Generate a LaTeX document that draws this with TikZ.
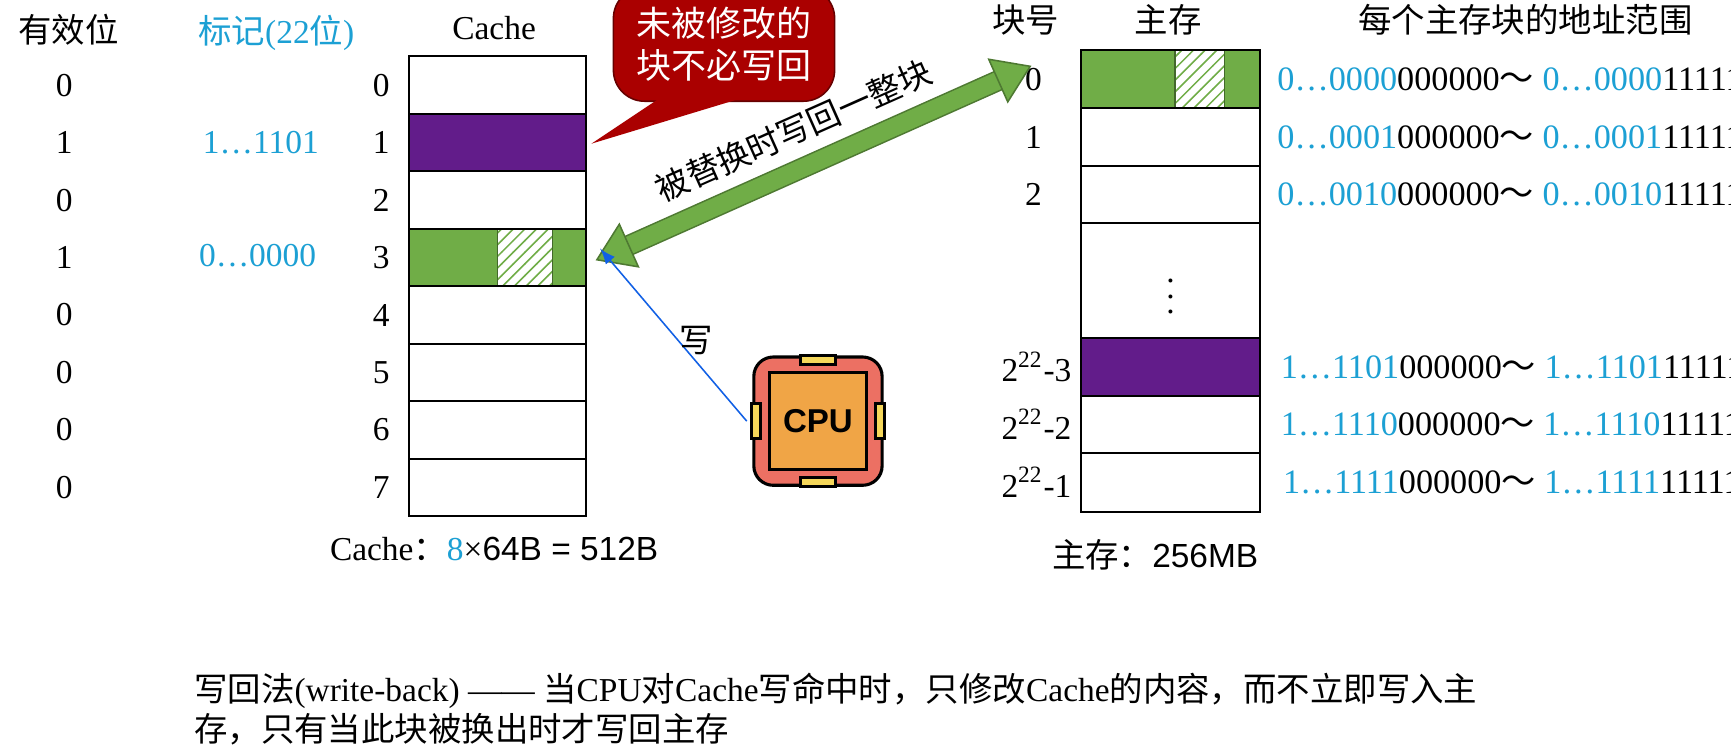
\documentclass[tikz,border=0pt]{standalone}
\usepackage{fontspec}
\setmainfont{Liberation Serif}
\newfontfamily\cjk{Noto Sans CJK SC}
\newfontfamily\sanf{Liberation Sans}
\usetikzlibrary{positioning,calc,patterns}
\definecolor{mygreen}{RGB}{112,173,71}
\definecolor{mypurple}{RGB}{98,28,138}
\definecolor{mycyan}{RGB}{28,160,212}
\definecolor{myred}{RGB}{170,0,0}
\definecolor{cpuout}{RGB}{236,112,99}
\definecolor{cpuin}{RGB}{240,165,70}
\definecolor{cpupin}{RGB}{245,215,90}
\newcommand\tg[1]{\textcolor{mycyan}{#1}}
\newcommand\addr[1]{\tg{#1}000000{\cjk ～} \tg{#1}111111}
\begin{document}
\begin{tikzpicture}[x=0.01cm,y=-0.01cm,
  every node/.style={font=\fontsize{8.6}{10}\selectfont},
  cell/.style={draw=black,line width=0.5pt},
  txt/.style={inner sep=0pt},
  adr/.style={txt,anchor=west,font=\fontsize{8.8}{10}\selectfont},
  ]
\useasboundingbox (0,0) rectangle (1566,682);
\clip (0,0) rectangle (1566,682);
\fill[white] (0,0) rectangle (1566,682);
% cache
\foreach \v [count=\i from 0] in {0,1,0,1,0,0,0,0}{
  \coordinate (c\i) at (370,{51+52*\i});
  \node[txt] (v\i) at (58,{77+52*\i}) {\v};
  \node[txt] (n\i) at (345,{77+52*\i}) {\i};
}
\fill[mypurple] (370,103) rectangle (530,155);
\fill[mygreen] (370,207) rectangle (530,259);
\fill[white] (450,207) rectangle (500,259);
\fill[pattern=north east lines,pattern color=mygreen] (450,207) rectangle (500,259);
\draw[mygreen!60!black,line width=0.3pt] (450,207) rectangle (500,259);
\foreach \i in {0,...,7}
  \draw[cell] (c\i) rectangle ++(160,52);
\node[txt] (valid) at (62,27) {\cjk 有效位};
\node[txt,text=mycyan] (tag) at (250,30) {{\cjk 标记}(22{\cjk 位})};
\node[txt,text=mycyan] (t1) at (236,129) {1…1101};
\node[txt,text=mycyan] (t3) at (233,231) {0…0000};
\node[txt] (cachet) at (447,25) {Cache};
\node[txt] (cachecap) at (447,497) {Cache{\cjk ：}\tg{8}×{\sanf 64B = 512B}};
% memory
\fill[mygreen] (978,45) rectangle (1140,98);
\fill[white] (1063,45) rectangle (1108,98);
\fill[pattern=north east lines,pattern color=mygreen] (1063,45) rectangle (1108,98);
\draw[mygreen!60!black,line width=0.3pt] (1063,45) rectangle (1108,98);
\fill[mypurple] (978,306) rectangle (1140,358);
\foreach \a/\b in {45/98,98/150,150/202,202/306,306/358,358/410,410/463}
  \draw[cell] (978,\a) rectangle (1140,\b);
\node[txt] (dots) at (1059,258) {$\vdots$};
\node[txt] (hn) at (928,18) {\cjk 块号};
\node[txt] (hm) at (1057,18) {\cjk 主存};
\node[txt] (hr) at (1380,18) {\cjk 每个主存块的地址范围};
\node[txt] (m0) at (935,72) {0};
\node[txt] (m1) at (935,124) {1};
\node[txt] (m2) at (935,176) {2};
\node[txt,anchor=east] (m3) at (970,332) {2\textsuperscript{22}-3};
\node[txt,anchor=east] (m4) at (970,384) {2\textsuperscript{22}-2};
\node[txt,anchor=east] (m5) at (970,436) {2\textsuperscript{22}-1};
\node[adr] (a0) at (1155,72) {\addr{0…0000}};
\node[adr] (a1) at (1155,124) {\addr{0…0001}};
\node[adr] (a2) at (1155,176) {\addr{0…0010}};
\node[adr] (a3) at (1158,332) {\addr{1…1101}};
\node[adr] (a4) at (1158,384) {\addr{1…1110}};
\node[adr] (a5) at (1160,436) {\addr{1…1111}};
\node[txt] (memcap) at (1045,502) {{\cjk 主存：}{\sanf 256MB}};
% callout
\node[fill=myred,draw=myred!60!black,rounded corners=8pt,text=white,align=center,
  minimum width=2cm,inner sep=5pt,font=\cjk\fontsize{9}{11}\selectfont]
  (note) at (655,40) {未被修改的\\块不必写回};
\coordinate (tip) at (535,130);
\fill[myred] (610,80) -- (tip) -- (700,80) -- cycle;
% arrows
\coordinate (ca) at (540,235);
\coordinate (ma) at (932,60);
\draw[line width=5.4pt,draw=mygreen!70!black] ($(ca)!9pt!(ma)$) -- ($(ma)!9pt!(ca)$);
\draw[line width=4.6pt,draw=mygreen] ($(ca)!8pt!(ma)$) -- ($(ma)!8pt!(ca)$);
\fill[mygreen,draw=mygreen!70!black] (ca) -- ($(ca)!9pt!(ma)!6pt!90:(ma)$) -- ($(ca)!9pt!(ma)!6pt!-90:(ma)$) -- cycle;
\fill[mygreen,draw=mygreen!70!black] (ma) -- ($(ma)!9pt!(ca)!6pt!90:(ca)$) -- ($(ma)!9pt!(ca)!6pt!-90:(ca)$) -- cycle;
\node[txt,rotate=24,font=\cjk\fontsize{8.5}{9}\selectfont] (wb) at (718,118) {被替换时写回一整块};
% cpu
\node[draw=black,line width=0.8pt,fill=cpuout,rounded corners=5pt,minimum size=1.16cm,inner sep=0pt] (cpu) at (740,381) {};
\draw[line width=0.8pt,fill=cpupin] (724,322) rectangle (756,330) (724,432) rectangle (756,440)
  (680,365) rectangle (688,397) (792,365) rectangle (800,397);
\node[draw=black,line width=0.8pt,fill=cpuin,minimum size=0.88cm,inner sep=0pt,
  font=\sanf\bfseries\fontsize{8.5}{9}\selectfont] (core) at (740,381) {CPU};
\draw[-latex,draw=mycyan!60!blue,line width=0.4pt] (cpu.west) ++(-5,0) -- (543,225);
\node[txt] (wr) at (630,308) {\cjk 写};
% bottom text
\node[txt,anchor=west] (d1) at (175,625) {{\cjk 写回法}(write-back) —— {\cjk 当}CPU{\cjk 对}Cache{\cjk 写命中时，只修改}Cache{\cjk 的内容，而不立即写入主}};
\node[txt,anchor=west] (d2) at (175,660) {\cjk 存，只有当此块被换出时才写回主存};
\end{tikzpicture}
\end{document}
